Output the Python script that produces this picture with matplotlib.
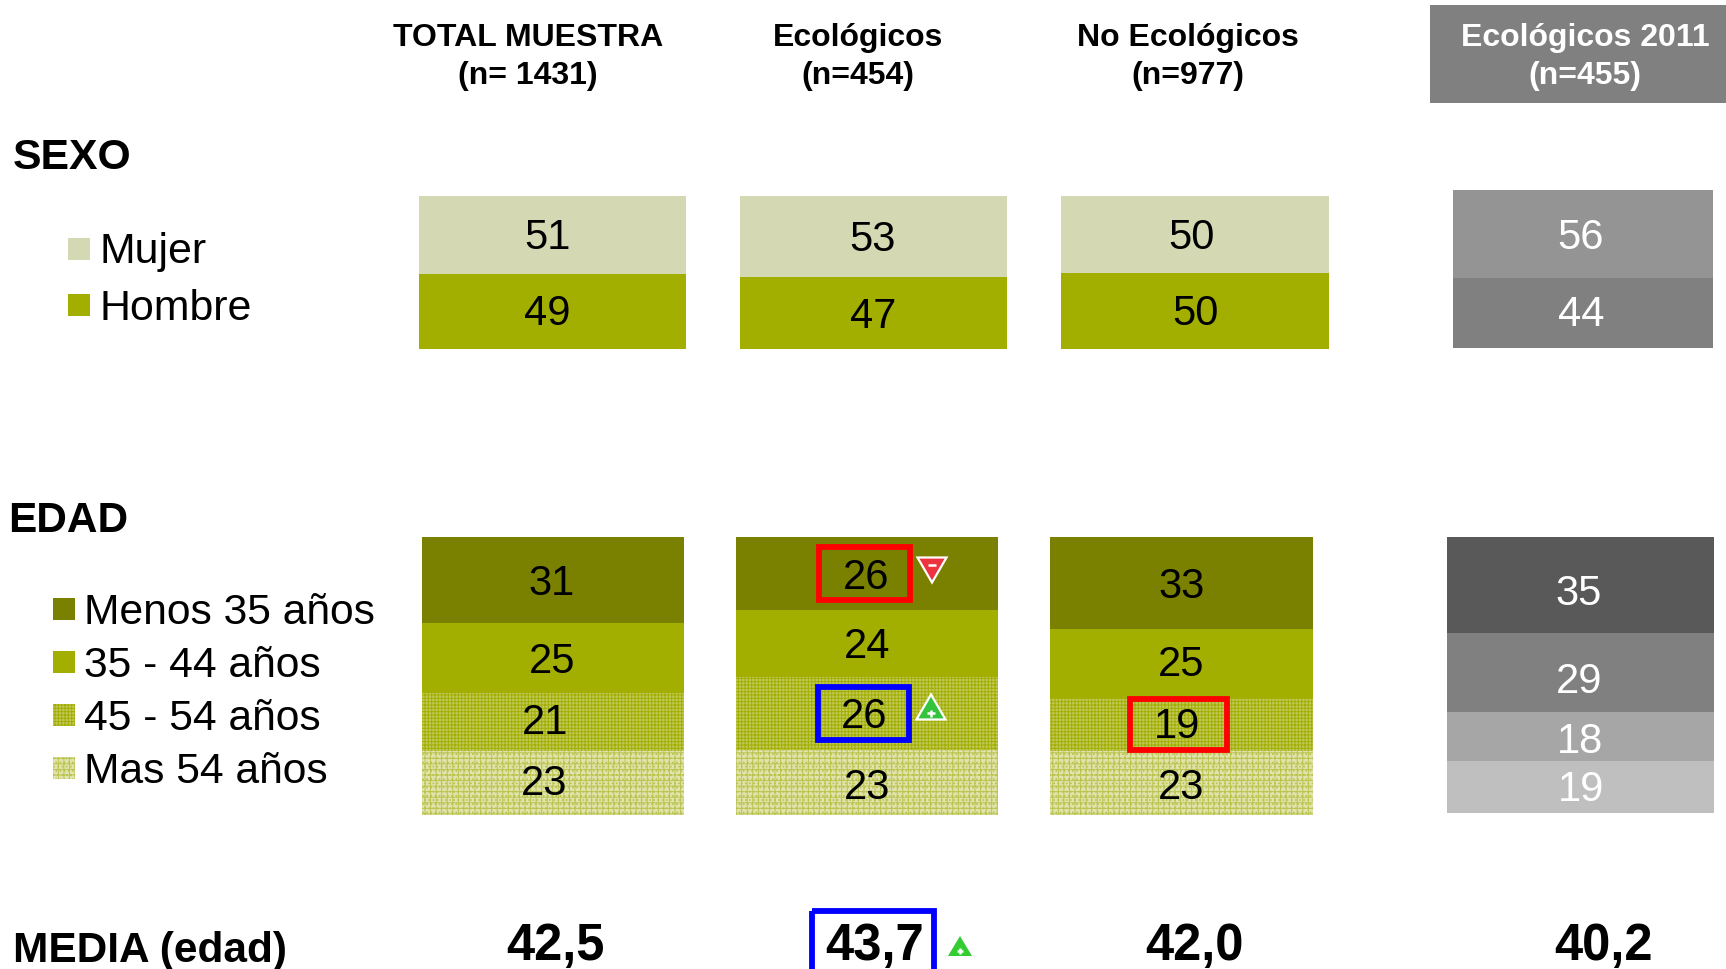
"""Perfil de la muestra: sexo, edad y media de edad, en barras apiladas."""

import matplotlib
matplotlib.use("Agg")
import matplotlib.pyplot as plt
from matplotlib.patches import Rectangle, Polygon

plt.rcParams["font.family"] = ["Liberation Sans", "DejaVu Sans"]
plt.rcParams["hatch.linewidth"] = 0.7

# ==================== DATA ====================
HEADERS = ["TOTAL MUESTRA\n(n= 1431)", "Ecológicos\n(n=454)", "No Ecológicos\n(n=977)", "Ecológicos 2011\n(n=455)"]

SEXO_LABELS = ["Mujer", "Hombre"]
SEXO_TOTAL = [51, 49]
SEXO_ECO = [53, 47]
SEXO_NOECO = [50, 50]
SEXO_2011 = [56, 44]

EDAD_LABELS = ["Menos 35 años", "35 - 44 años", "45 - 54 años", "Mas 54 años"]
EDAD_TOTAL = [31, 25, 21, 23]
EDAD_ECO = [26, 24, 26, 23]
EDAD_NOECO = [33, 25, 19, 23]
EDAD_2011 = [35, 29, 18, 19]

MEDIA = ["42,5", "43,7", "42,0", "40,2"]
# ==============================================

W, H = 1726, 969
BLACK, WHITE = "#000000", "#FFFFFF"

# segment styles, top to bottom
SEXO_STYLE = [dict(color="#D4D9B4"), dict(color="#A3AF00")]
EDAD_STYLE = [
    dict(color="#7A8000"),
    dict(color="#A3AF00"),
    dict(facecolor="#C0C85C", edgecolor="#A3AF00", hatch="+++++"),
    dict(facecolor="#E0E4AC", edgecolor="#BBC450", hatch="+++...."),
]
SEXO_GREY = [dict(color="#949494"), dict(color="#808080")]
EDAD_GREY = [dict(color="#595959"), dict(color="#808080"), dict(color="#A6A6A6"), dict(color="#BFBFBF")]

# panel boxes in pixels: left, right, top, bottom
SEXO_BOXES = [(419, 686, 196, 349), (740, 1007, 196, 349), (1061, 1329, 196, 349), (1453, 1713, 190, 348)]
EDAD_BOXES = [(422, 684, 537, 815), (736, 998, 537, 815), (1050, 1313, 537, 815), (1447, 1714, 537, 813)]

# nudges of the value labels from the segment centre, in pixels
SEXO_NUDGE = [[(-5, 2), (-5, 2)], [(-1, 1), (0, 1)], [(-4, 1), (0, 1)], [(-2, 1), (-2, 3)]]
EDAD_NUDGE = [
    [(-1, 1), (-1, 0), (-8, 3), (-9, 4)],
    [(-1, 0), (0, 1), (-3, 1), (0, -1)],
    [(0, 0), (0, 3), (-4, 2), (0, 0)],
    [(-2, -5), (-1, -5), (0, -1), (1, 2)],
]


def px_axes(box):
    left, right, top, bottom = box
    return [left/W, 1-bottom/H, (right-left)/W, (bottom-top)/H]


def stacked_panel(fig, box, values, styles, nudges, text_color):
    ax = fig.add_axes(px_axes(box))
    total = sum(values)
    ax.set_xlim(0, 1)
    ax.set_ylim(0, total)
    ax.axis("off")
    top = total
    for val, style, (dx, dy) in zip(values, styles, nudges):
        ax.bar(0.5, val, width=1, bottom=top-val, linewidth=0, **style)
        ax.annotate(str(val), (0.5, top-val/2), xytext=(dx, dy), textcoords="offset pixels",
                    ha="center", va="center_baseline", fontsize=30, color=text_color)
        top -= val
    return ax


fig = plt.figure(figsize=(W/100, H/100), dpi=100, facecolor=WHITE)

for i in range(4):
    sexo = [SEXO_TOTAL, SEXO_ECO, SEXO_NOECO, SEXO_2011][i]
    edad = [EDAD_TOTAL, EDAD_ECO, EDAD_NOECO, EDAD_2011][i]
    grey = i == 3
    stacked_panel(fig, SEXO_BOXES[i], sexo, SEXO_GREY if grey else SEXO_STYLE, SEXO_NUDGE[i], WHITE if grey else BLACK)
    stacked_panel(fig, EDAD_BOXES[i], edad, EDAD_GREY if grey else EDAD_STYLE, EDAD_NUDGE[i], WHITE if grey else BLACK)

# overlay in pixel coordinates for titles, legend and highlight boxes
ov = fig.add_axes([0, 0, 1, 1], zorder=5)
ov.set_xlim(0, W)
ov.set_ylim(H, 0)
ov.axis("off")
ov.patch.set_alpha(0)

ov.add_patch(Rectangle((1430, 5), 296, 98, color="#808080", linewidth=0))
for label, x, color in zip(HEADERS, [528, 858, 1188, 1585], [BLACK, BLACK, BLACK, WHITE]):
    ov.text(x, 57, label, ha="center", va="center", fontsize=23, fontweight="bold", color=color, linespacing=1.36)

ov.text(13, 158, "SEXO", va="center", fontsize=30.8, fontweight="bold")
ov.text(8, 521, "EDAD", va="center", fontsize=30.5, fontweight="bold")
ov.text(13, 951, "MEDIA (edad)", va="center", fontsize=30.5, fontweight="bold")

# legends
for label, style, y_box, y_txt in zip(SEXO_LABELS, SEXO_STYLE, [238, 294], [252, 309]):
    ov.add_patch(Rectangle((68, y_box), 22, 22, linewidth=0, **style))
    ov.text(99, y_txt, label, va="center", fontsize=30.9)
for label, style, y_box, y_txt in zip(EDAD_LABELS, EDAD_STYLE, [598, 651, 704, 757], [613, 666, 719, 772]):
    ov.add_patch(Rectangle((53, y_box), 22, 22, linewidth=0, **style))
    ov.text(84, y_txt, label, va="center", fontsize=30.7)

# media row
for val, x in zip(MEDIA, [555, 875, 1194, 1603]):
    ov.text(x, 947, val, ha="center", va="center", fontsize=36.5, fontweight="bold")

# highlight boxes
for x0, y0, x1, y1, color in [(816, 544, 913, 603, "#FF0000"), (815, 684, 912, 743, "#0000FF"),
                              (1127, 696, 1230, 753, "#FF0000"), (809, 908, 937, 985, "#0000FF")]:
    ov.add_patch(Rectangle((x0+3, y0+3), x1-x0-6, y1-y0-6, fill=False, edgecolor=color, linewidth=4.2))


def arrow(cx, cy, w, h, up, color, edge):
    tip, base = (cy-h/2, cy+h/2) if up else (cy+h/2, cy-h/2)
    ov.add_patch(Polygon([(cx-w/2, base), (cx+w/2, base), (cx, tip)], closed=True,
                         facecolor=color, edgecolor=edge, linewidth=1.6 if edge == WHITE else 0))
    ym = cy+h/4 if up else cy-h/5
    ov.plot([cx-w/8, cx+w/8], [ym, ym], color=WHITE, lw=1.8, solid_capstyle="butt")
    if up:
        ov.plot([cx, cx], [ym-w/8, ym+w/8], color=WHITE, lw=1.8, solid_capstyle="butt")


arrow(932, 570, 29, 25, False, "#EE3340", WHITE)
arrow(931, 707, 29, 25, True, "#33C33C", WHITE)
arrow(960, 946, 24, 20, True, "#33CC33", "none")

fig.savefig("out.png", dpi=100)
